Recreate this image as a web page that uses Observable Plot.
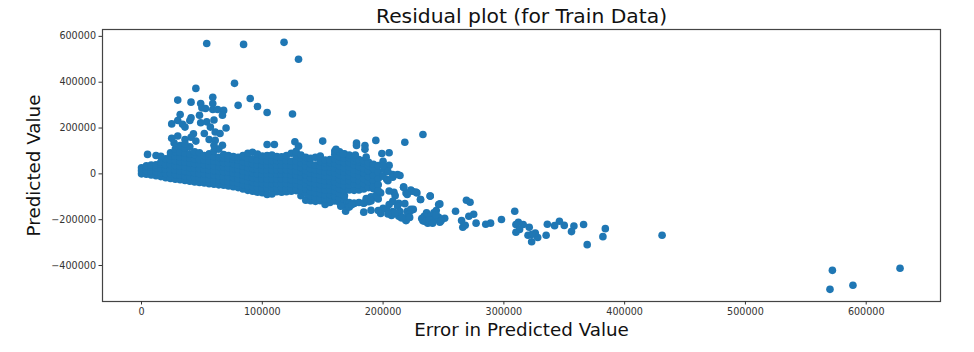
<!DOCTYPE html>
<html>
<head>
<meta charset="utf-8">
<script src="https://cdn.jsdelivr.net/npm/d3@7"></script>
<script src="https://cdn.jsdelivr.net/npm/@observablehq/plot@0.6"></script>
<style>
html,body{margin:0;padding:0;background:#fff}
svg{display:block}
</style>
</head>
<body>
<div id="chart"></div>
<script>
// values in thousands
const chartTitle = "Residual plot (for Train Data)";
const xLabel = "Error in Predicted Value";
const yLabel = "Predicted Value";
const xTicks = [0,100000,200000,300000,400000,500000,600000];
const yTicks = [-400000,-200000,0,200000,400000,600000];

// dense core: [error, [predicted values...]]
const coreColumns = [
 [0,[0,14,27]],
 [4,[-2,14,30,35]],
 [8,[-5,12,30,38]],
 [12,[-8,10,28,40]],
 [16,[-12,6,24,42,52]],
 [20,[-17,2,20,40,66]],
 [24,[-20,0,20,40,60,80,92]],
 [28,[-23,-3,17,37,57,77,97,108]],
 [32,[-26,-6,14,34,54,74,94,124]],
 [36,[-29,-9,11,31,51,71,91,112]],
 [40,[-32,-12,8,28,48,68,88,118]],
 [44,[-35,-15,5,25,45,65,85,96]],
 [48,[-38,-18,2,22,42,62,92]],
 [52,[-40,-20,0,20,40,60,80]],
 [56,[-43,-23,-3,17,37,57,77,88]],
 [60,[-45,-25,-5,15,35,55,75,100]],
 [64,[-48,-28,-8,12,32,52,72,108]],
 [68,[-50,-30,-10,10,30,50,70,84]],
 [72,[-53,-33,-13,7,27,47,67,80]],
 [76,[-56,-36,-16,4,24,44,64,76]],
 [80,[-60,-40,-20,0,20,40,60,72]],
 [84,[-66,-46,-26,-6,14,34,54,74,80]],
 [88,[-72,-52,-32,-12,8,28,48,68,90]],
 [92,[-76,-56,-36,-16,4,24,44,64,94]],
 [96,[-80,-60,-40,-20,0,20,40,60,86]],
 [100,[-82,-62,-42,-22,-2,18,38,58,78]],
 [104,[-90,-62,-42,-22,-2,18,38,58,80]],
 [108,[-88,-62,-42,-22,-2,18,38,58,82]],
 [112,[-78,-62,-42,-22,-2,18,38,58,76]],
 [116,[-80,-62,-42,-22,-2,18,38,58,74]],
 [120,[-78,-62,-42,-22,-2,18,38,58,80]],
 [124,[-76,-65,-45,-25,-5,15,35,55,90]],
 [128,[-73,-65,-45,-25,-5,15,35,55,78,98]],
 [132,[-95,-72,-52,-32,-12,8,28,48,68,82]],
 [136,[-115,-85,-65,-45,-25,-5,15,35,55,72]],
 [140,[-117,-97,-77,-57,-37,-17,3,23,43,68]],
 [144,[-120,-102,-82,-62,-42,-22,-2,18,38,72]],
 [148,[-117,-106,-86,-66,-46,-26,-6,14,34,54,78]],
 [152,[-134,-110,-90,-70,-50,-30,-10,10,30,50,60]],
 [156,[-125,-110,-90,-70,-50,-30,-10,10,30,50,62]],
 [160,[-118,-100,-95,-75,-55,-35,-15,5,25,45,65,85,100]],
 [164,[-125,-105,-85,-65,-45,-25,-5,15,35,55,75,96]],
 [168,[-135,-115,-95,-72,-52,-32,-12,8,28,48,68,88]],
 [172,[-70,-50,-30,-10,10,30,50,70,82]],
 [176,[-72,-42,-22,-2,18,38,58,72]],
 [180,[-70,-50,-30,-8,12,32,52,62]],
 [184,[-66,-42,-20,4,24,48,58]],
 [188,[-60,-36,-14,14,34,50]],
 [192,[-30,-6,22,42]],
 [196,[-20,8,36]]
];

// scattered points read one by one
const sparseError = [
 54,84.5,118,130,77,45,59,30,90,41,80,49,59,96,50,53,59,63,68,104,125,67,32,48,41,40,60,54,49,30,25,34,36,57,70,61,52,65,43,30,25,41,36,56,61,45,27,36,60,67,5,12,16,
 104,110,127,130,150,161,167,178,178,185,185,177,186,194,199,205,233,218,200,205,201,214,208,203,217,219,224,228,231,239,213,209,198,192,191,184,176,170,165,169,184,190,198,205,207,213,219,203,223,225,221,246,
 628,572,589,570,431,384,382,369,366,358,356,350,346,342,336,335,328,323,326,321,320,316,312,310,313,310,309,323,298,289,285,277,266,265,268,275,271,272,269,260,247,239,231,247,251,
 236,239,242,244,233,237,241,243,246,234,220,223,221,219,215,223,227,220,217,
 232,235,238,241,244,248,
 172,176,180,184,188,186,190,194,196,190,192,196,196,200,204,204,208,212,200,205,210,208,212,218,208,214,200,196,204,210,216,222,172,174
];
const sparsePredicted = [
 569,565,574,500,395,373,334,322,329,313,299,307,307,294,288,285,281,281,277,268,261,256,259,256,245,233,235,227,223,233,218,216,204,204,200,183,176,176,175,165,155,160,150,150,146,143,135,131,125,125,85,80,77,
 128,128,140,121,143,107,87,135,124,124,107,82,73,146,89,92,172,138,55,37,19,-7,-3,-24,-58,-83,-76,-83,-112,-97,-129,-80,-83,-65,-105,-127,-129,-128,-141,-163,-167,-159,-173,-134,-182,-185,-202,-155,-155,-155,-173,-134,
 -412,-421,-486,-504,-268,-239,-274,-309,-221,-228,-252,-225,-207,-226,-220,-268,-278,-296,-258,-233,-268,-221,-211,-221,-243,-255,-163,-265,-199,-215,-220,-215,-233,-204,-224,-176,-185,-124,-115,-163,-131,-97,-112,-211,-194,
 -170,-185,-170,-160,-205,-215,-210,-195,-190,-185,-163,-160,-178,-204,-192,-71,-79,-90,-58,
 -195,-208,-200,-215,-180,-205,
 -125,-128,-125,-128,-122,-108,-100,-95,-110,-118,-56,-48,-74,-10,10,-30,-15,-3,35,-75,-95,-120,-140,-130,-165,-165,-150,-160,-175,-170,-190,-190,-145,-135
];

const points = [];
for (const [x, ys] of coreColumns) for (const y of ys) points.push({x: x * 1000, y: y * 1000});
sparseError.forEach((x, i) => points.push({x: x * 1000, y: sparsePredicted[i] * 1000}));

const fmt = d3.format("d");
const textFont = "'DejaVu Sans', sans-serif";
const plot = Plot.plot({
  width: 974,
  height: 352,
  marginTop: 29,
  marginLeft: 102,
  marginRight: 34,
  marginBottom: 51,
  style: {fontFamily: textFont, background: "#fff"},
  x: {domain: [-32300, 661500]},
  y: {domain: [-557000, 630000]},
  marks: [
    Plot.dot(points, {x: "x", y: "y", r: 3.8, fill: "#1f77b4", stroke: "none"}),
    Plot.frame({stroke: "#444", strokeWidth: 1.2}),
    Plot.axisX({ticks: xTicks, tickFormat: fmt, label: null, tickSize: 3.5, tickPadding: 3, fontSize: 9.6, color: "#333"}),
    Plot.axisY({ticks: yTicks, tickFormat: fmt, label: null, tickSize: 3.5, tickPadding: 3, fontSize: 9.6, color: "#333"}),
    Plot.text([chartTitle], {frameAnchor: "top", dy: -13, fontSize: 20.3, fill: "#111", fontFamily: textFont, lineAnchor: "middle"}),
    Plot.text([xLabel], {frameAnchor: "bottom", dy: 29, fontSize: 18.3, fill: "#111", fontFamily: textFont, lineAnchor: "middle"}),
    Plot.text([yLabel], {frameAnchor: "left", dx: -68, rotate: -90, textAnchor: "middle", fontSize: 18.3, fill: "#111", fontFamily: textFont})
  ]
});
document.getElementById("chart").append(plot);
</script>
</body>
</html>
